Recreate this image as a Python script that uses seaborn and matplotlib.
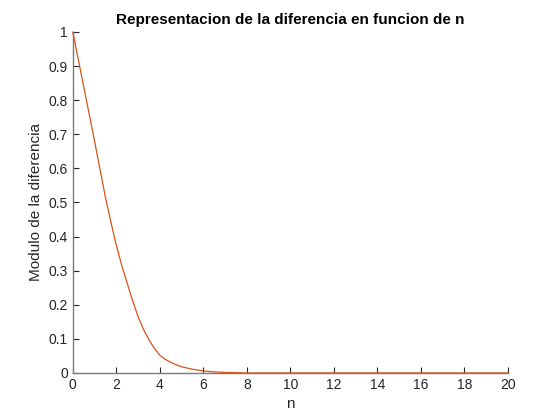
import numpy as np
import pandas as pd
import matplotlib
matplotlib.use("Agg")
import matplotlib.pyplot as plt
import seaborn as sns

# Values
n_vals = [0, 0.5, 1.0, 1.5, 1.75, 2.0, 2.25, 2.5, 2.75, 3.0, 3.25, 3.5, 3.75,
          4.0, 4.25, 4.5, 4.75, 5.0, 5.5, 6.0, 6.5, 7, 8, 10, 12, 14, 16, 18, 20]
diff_vals = [1.0, 0.84, 0.68, 0.515, 0.443, 0.375, 0.315, 0.263, 0.212, 0.165,
             0.128, 0.097, 0.072, 0.052, 0.040, 0.031, 0.024, 0.018, 0.011,
             0.006, 0.003, 0.0015, 0, 0, 0, 0, 0, 0, 0]
x_ticks = list(range(0, 21, 2))
y_ticks = [0, 0.1, 0.2, 0.3, 0.4, 0.5, 0.6, 0.7, 0.8, 0.9, 1]
y_tick_labels = ["0", "0.1", "0.2", "0.3", "0.4", "0.5", "0.6", "0.7", "0.8", "0.9", "1"]

df = pd.DataFrame({"n": n_vals, "diff": diff_vals})

sns.set_theme(style="ticks")
plt.rcParams["font.family"] = ["Liberation Sans", "DejaVu Sans"]
plt.rcParams["xtick.direction"] = "in"
plt.rcParams["ytick.direction"] = "in"

fig = plt.figure(figsize=(5.6, 4.2), dpi=100)
ax = fig.add_axes([0.13, 0.112, 0.777, 0.812])
sns.lineplot(data=df, x="n", y="diff", ax=ax, color="#D95319", linewidth=0.9)
for l in ax.lines:
    l.set_clip_on(False)
    l.set_zorder(5)

ax.set_xlim(0, 20)
ax.set_ylim(0, 1)
ax.set_xticks(x_ticks)
ax.set_xticklabels([str(t) for t in x_ticks])
ax.set_yticks(y_ticks)
ax.set_yticklabels(y_tick_labels)
for side in ["top", "right"]:
    ax.spines[side].set_visible(False)
for side in ["left", "bottom"]:
    ax.spines[side].set_color("#7a7a7a")
    ax.spines[side].set_linewidth(1.0)
ax.tick_params(axis="both", labelsize=10, colors="#262626", length=4, width=0.8)

ax.set_xlabel("n", fontsize=11, color="#262626")
ax.set_ylabel("Modulo de la diferencia", fontsize=11, color="#262626")
ax.set_title("Representacion de la diferencia en funcion de n", fontsize=11,
             fontweight="bold", color="black")

fig.savefig("out.png", dpi=100)
